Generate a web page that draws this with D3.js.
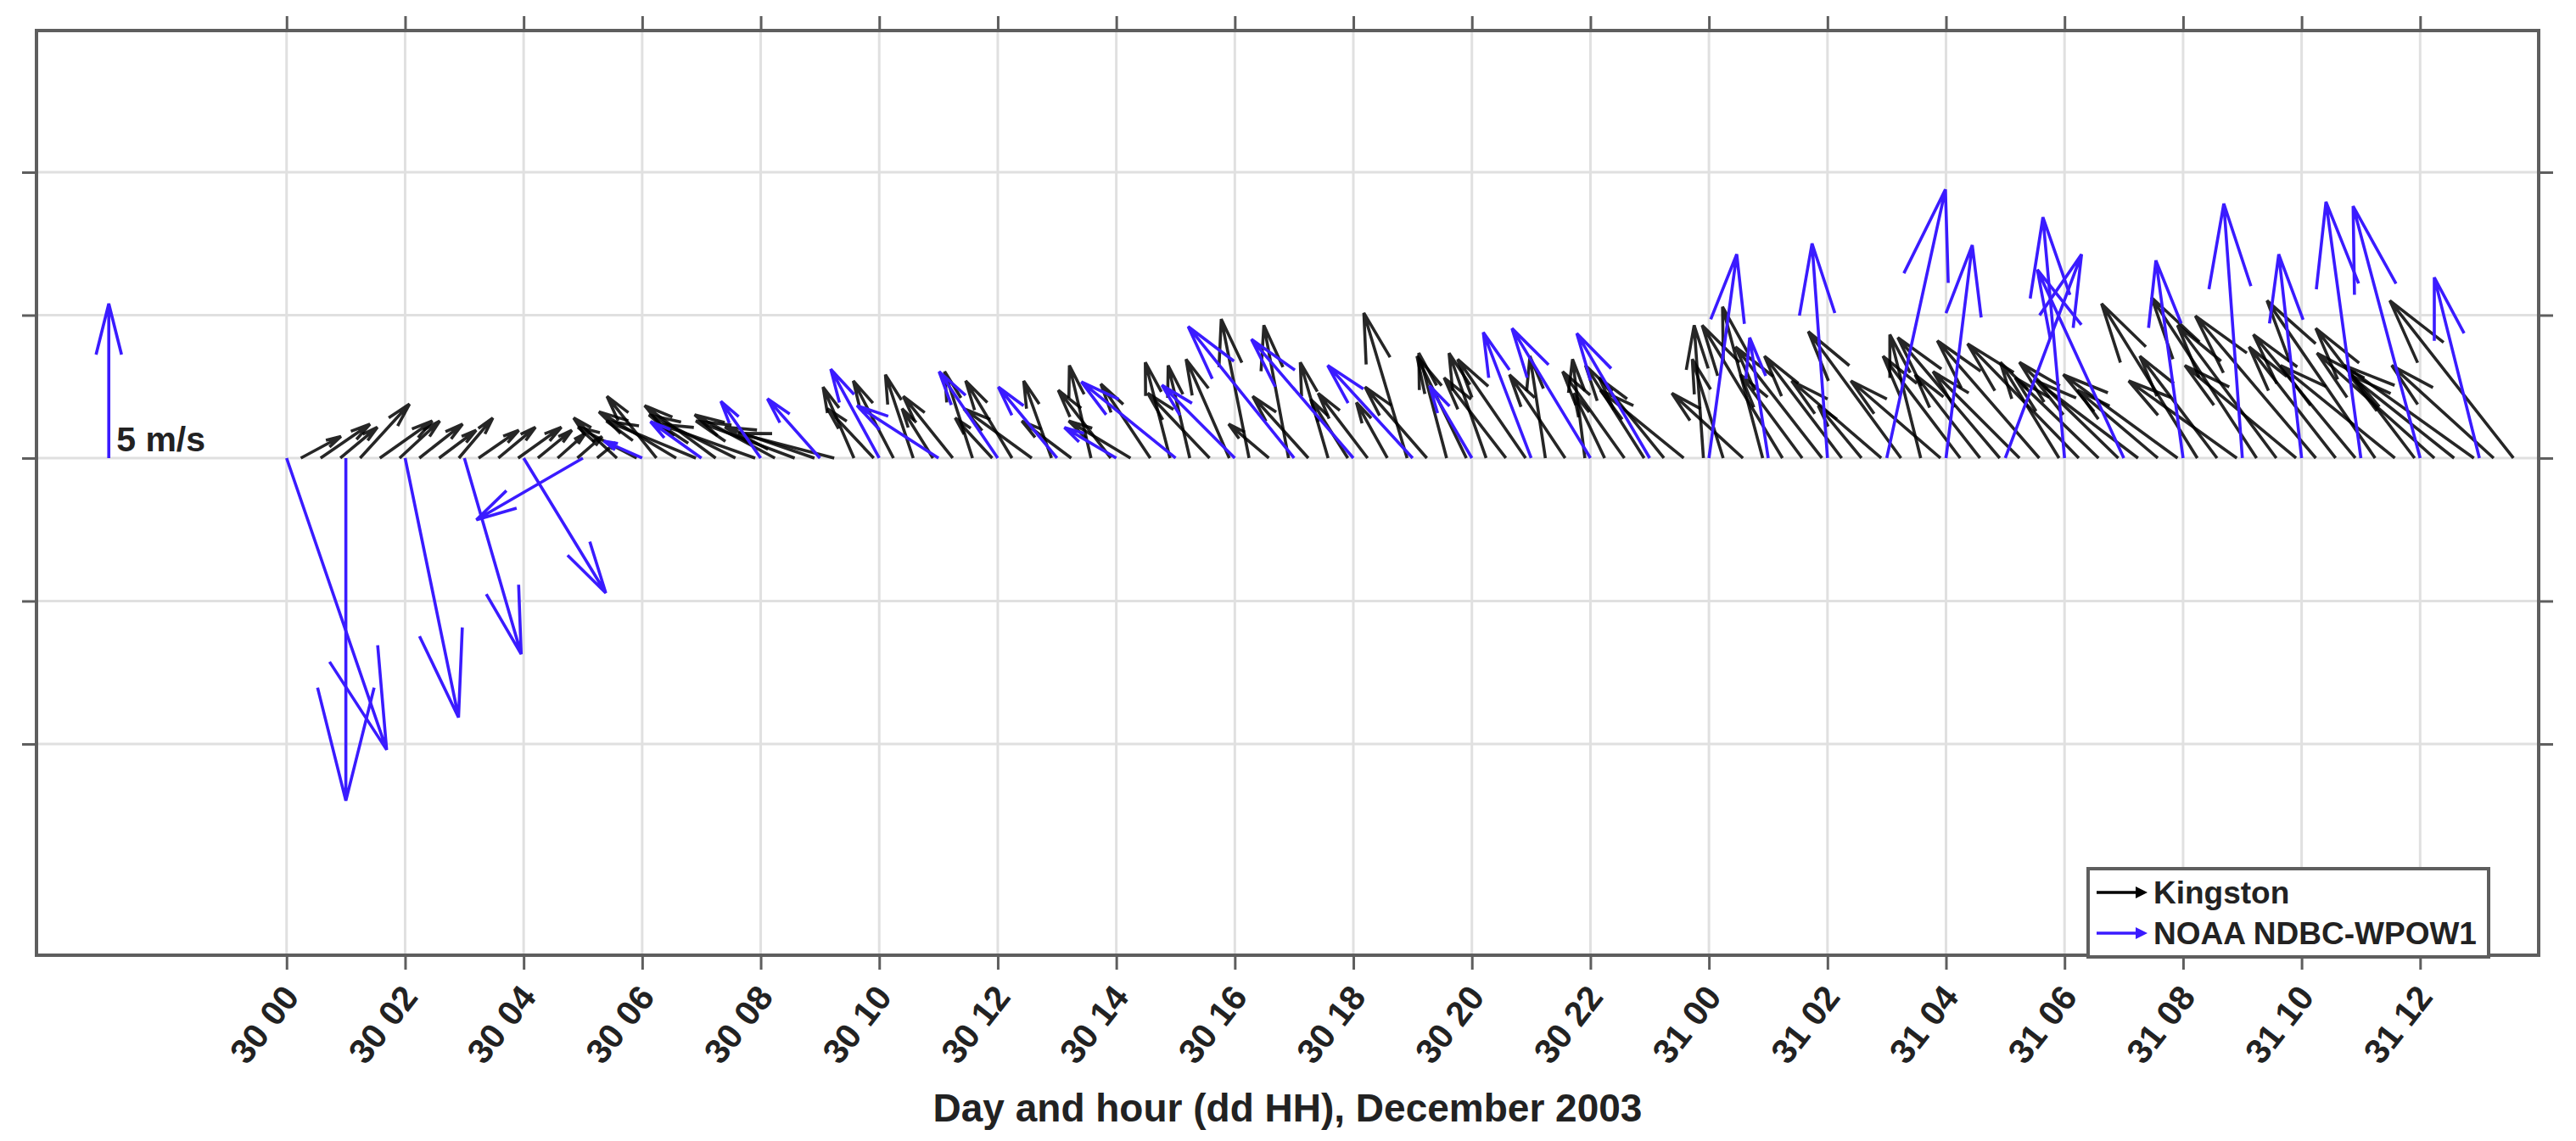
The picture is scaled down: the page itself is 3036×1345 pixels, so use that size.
<!DOCTYPE html>
<html>
<head>
<meta charset="utf-8">
<script src="https://cdn.jsdelivr.net/npm/d3@7"></script>
<style>
  body { margin: 0; background: #fff; }
  text { font-family: "Liberation Sans", Arial, sans-serif; font-weight: bold; fill: #222; }
</style>
</head>
<body>
<div id="chart"></div>
<script>
// hours since 30 Dec 2003 00:00
const xTicks = [0, 2, 4, 6, 8, 10, 12, 14, 16, 18, 20, 22, 24, 26, 28, 30, 32, 34, 36]
const xTickLabels = ['30 00', '30 02', '30 04', '30 06', '30 08', '30 10', '30 12', '30 14', '30 16', '30 18',
                     '30 20', '30 22', '31 00', '31 02', '31 04', '31 06', '31 08', '31 10', '31 12']
const yTicks = [-2, -1, 0, 1, 2]

// NOAA NDBC-WPOW1, hourly (east u, north v in m/s)
const noaaTime = d3.range(0, 38)
const noaaU = [3.24, 0, 1.73, 1.84, 2.66, -3.45, -1.24, -1.65, -1.29, -1.7,
               -1.57, -2.64, -1.9, -1.9, -1.68, -3.05, -2.36, -3.43, -3.3, -2.75,
               -1.37, -1.55, -2.54, -2.36, 0.9, -0.6, -0.5, 1.9, 0.85, 2.47,
               -0.7, -2.8, -0.88, -0.6, -0.74, -1.13, -2.17, -1.46]
const noaaV = [-9.45, -11.1, -8.4, -6.35, -4.37, -2.0, 0.55, 1.18, 1.84, 1.92,
               2.88, 1.7, 2.8, 2.3, 0.99, 2.47, 2.36, 4.26, 3.85, 3.0,
               2.34, 4.07, 4.2, 4.04, 6.6, 3.9, 6.95, 8.7, 6.9, 6.6,
               7.8, 6.1, 6.4, 8.24, 6.6, 8.3, 8.16, 5.85]

// Kingston, every 20 minutes from 00:14
const kingStart = 0.24, kingStep = 1 / 3
const kingU = [1.3, 1.6, 1.2,  1.6, 1.7, 1.3,  1.4, 1.2, 1.1,  1.3, 1.2, 1.4,
               1.1, 0.9, 0.8,  0.6, -1.4, -1.9,  -1.6, -2.5, -2.9,  -2.3, -2.8, -3.1,
               -2.6, -3.2, -2.9,  -3.1, -1.0, -1.5,  -1.3, -0.9, -1.0,  -1.6, -0.9, -1.2,
               -1.5, -2.2, -0.9,  -1.6, -0.7, -1.7,  -2.0, -1.6, -0.8,  -0.7, -2.0, -1.4,
               -0.9, -1.3, -0.8,  -1.8, -0.9, -1.2,  -1.6, -1.0, -1.4,  -2.0, -0.9, -1.6,
               -1.2, -2.0, -2.2,  -0.5, -1.8, -0.4,  -1.0, -2.0, -1.9,  -2.1, -2.7, -0.3,
               -1.0, -2.3, -1.3,  -2.6, -2.0, -2.8,  -2.5, -1.4, -2.9,  -3.0, -1.0, -2.9,
               -2.5, -2.1, -3.3,  -2.8, -3.3, -1.9,  -3.6, -2.7, -3.2,  -3.3, -2.6, -3.7,
               -3.1, -2.5, -3.5,  -3.4, -3.2, -3.6,  -3.9, -2.8, -3.3,  -3.5, -3.7, -3.2,
               -3.8, -3.4, -4.2,  -3.3, -4.0]
const kingV = [0.7, 1.1, 1.0,  1.75, 1.2, 1.2,  1.1, 0.9, 1.3,  0.9, 1.0, 1.0,
               0.9, 0.8, 0.7,  0.5, 1.3, 1.0,  2.0, 1.5, 1.2,  1.7, 1.4, 1.1,
               1.4, 1.2, 1.0,  0.8, 2.3, 1.6,  2.5, 2.7, 1.6,  2.0, 2.8, 1.3,
               2.5, 1.6, 2.5,  1.2, 3.0, 2.2,  1.2, 2.4, 3.1,  3.0, 2.1, 3.2,
               4.5, 1.1, 4.3,  2.0, 3.1, 1.9,  2.1, 1.8, 4.7,  2.3, 3.4, 3.3,
               3.4, 2.6, 3.2,  3.3, 2.7, 3.2,  2.1, 2.8, 3.0,  2.6, 2.2, 4.3,
               3.2, 2.1, 4.9,  4.3, 2.7, 3.6,  3.3, 1.7, 2.5,  4.1, 4.0, 2.5,
               3.3, 2.7, 3.9,  2.8, 3.8, 3.1,  3.7, 2.6, 3.1,  2.5, 2.2, 2.7,
               5.0, 3.3, 2.5,  5.2, 4.3, 3.0,  4.6, 3.6, 4.0,  5.1, 3.0, 4.2,
               3.4, 2.7, 3.0,  3.0, 5.1]

const scaleArrow = {t: -3, v: 5, label: '5 m/s'}
const seriesNames = ['Kingston', 'NOAA NDBC-WPOW1']
const seriesColors = ['#000000', '#3a1bff']

const width = 3036, height = 1345
const plot = {left: 43, right: 2992, top: 36, bottom: 1126}
const quiverScale = 1 / 4.63   // axis units per m/s

const svg = d3.select('#chart').append('svg')
    .attr('width', width).attr('height', height)
svg.append('rect').attr('width', width).attr('height', height).attr('fill', '#fff')

const x = d3.scaleLinear().domain([-4.22, 38.0]).range([plot.left, plot.right])
const y = d3.scaleLinear().domain([-3.478, 2.991]).range([plot.bottom, plot.top])
const k = y(0) - y(quiverScale)  // pixels per m/s

// grid
const grid = svg.append('g')
grid.selectAll('.vg').data(xTicks).enter().append('line')
    .attr('x1', d => x(d)).attr('x2', d => x(d))
    .attr('y1', plot.top).attr('y2', plot.bottom)
    .attr('stroke', '#e0e0e0').attr('stroke-width', 3)
grid.selectAll('.hg').data(yTicks).enter().append('line')
    .attr('x1', plot.left).attr('x2', plot.right)
    .attr('y1', d => y(d)).attr('y2', d => y(d))
    .attr('stroke', '#e0e0e0').attr('stroke-width', 3)

function arrowPath(x0, y0, u, v){
    let dx = u * k, dy = -v * k
    let tx = x0 + dx, ty = y0 + dy
    let a = 0.33, b = 0.25
    let px = -dy, py = dx
    let w1x = tx - a * (dx + b * px), w1y = ty - a * (dy + b * py)
    let w2x = tx - a * (dx - b * px), w2y = ty - a * (dy - b * py)
    return 'M' + x0 + ',' + y0 + 'L' + tx + ',' + ty +
           'M' + w1x + ',' + w1y + 'L' + tx + ',' + ty + 'L' + w2x + ',' + w2y
}

const kingData = kingU.map((u, i) => ({t: kingStart + i * kingStep, u: u, v: kingV[i]}))
const noaaData = noaaTime.map((t, i) => ({t: t, u: noaaU[i], v: noaaV[i]}))

svg.append('g').selectAll('path').data(kingData).enter().append('path')
    .attr('d', d => arrowPath(x(d.t), y(0), d.u, d.v))
    .attr('fill', 'none').attr('stroke', seriesColors[0]).attr('stroke-width', 3.6)
    .attr('stroke-opacity', 0.85)

svg.append('g').selectAll('path').data(noaaData).enter().append('path')
    .attr('d', d => arrowPath(x(d.t), y(0), d.u, d.v))
    .attr('fill', 'none').attr('stroke', seriesColors[1]).attr('stroke-width', 3.6)

// scale arrow
svg.append('path')
    .attr('d', arrowPath(x(scaleArrow.t), y(0), 0, scaleArrow.v))
    .attr('fill', 'none').attr('stroke', seriesColors[1]).attr('stroke-width', 3.6)
svg.append('text').attr('x', x(scaleArrow.t) + 9).attr('y', y(0) - 8)
    .style('font-size', '41px').text(scaleArrow.label)

// axes (ticks only, outward)
const axisColor = '#5e5e5e'
const xb = svg.append('g').attr('transform', 'translate(0,' + plot.bottom + ')')
    .call(d3.axisBottom(x).tickValues(xTicks).tickSize(17).tickFormat((d, i) => xTickLabels[i]))
xb.selectAll('text')
    .attr('x', 0).attr('y', 0).attr('dy', 0)
    .attr('transform', 'translate(16,50) rotate(-52)')
    .attr('text-anchor', 'end')
    .style('font-size', '41px').style('font-family', '"Liberation Sans", Arial, sans-serif')
    .style('font-weight', 'bold').attr('fill', '#222')
svg.append('g').attr('transform', 'translate(0,' + plot.top + ')')
    .call(d3.axisTop(x).tickValues(xTicks).tickSize(17).tickFormat(''))
svg.append('g').attr('transform', 'translate(' + plot.left + ',0)')
    .call(d3.axisLeft(y).tickValues(yTicks).tickSize(17).tickFormat(''))
svg.append('g').attr('transform', 'translate(' + plot.right + ',0)')
    .call(d3.axisRight(y).tickValues(yTicks).tickSize(17).tickFormat(''))
svg.selectAll('.domain').remove()
svg.selectAll('.tick line').attr('stroke', axisColor).attr('stroke-width', 3)

svg.append('rect')
    .attr('x', plot.left).attr('y', plot.top)
    .attr('width', plot.right - plot.left).attr('height', plot.bottom - plot.top)
    .attr('fill', 'none').attr('stroke', axisColor).attr('stroke-width', 4)

// x label
svg.append('text').attr('x', (plot.left + plot.right) / 2).attr('y', 1322)
    .attr('text-anchor', 'middle').style('font-size', '46px')
    .text('Day and hour (dd HH), December 2003')

// legend
const lg = svg.append('g').attr('transform', 'translate(2461,1024)')
lg.append('rect').attr('width', 472).attr('height', 104)
    .attr('fill', '#fff').attr('stroke', axisColor).attr('stroke-width', 4)
seriesNames.forEach((name, i) => {
    let ly = 28 + i * 48
    lg.append('line').attr('x1', 10).attr('x2', 62).attr('y1', ly).attr('y2', ly)
        .attr('stroke', seriesColors[i]).attr('stroke-width', 3.6)
    lg.append('path').attr('d', 'M56,' + (ly - 7) + 'L70,' + ly + 'L56,' + (ly + 7) + 'Z')
        .attr('fill', seriesColors[i])
    lg.append('text').attr('x', 77).attr('y', ly + 13).style('font-size', '37px').text(name)
})
</script>
</body>
</html>
